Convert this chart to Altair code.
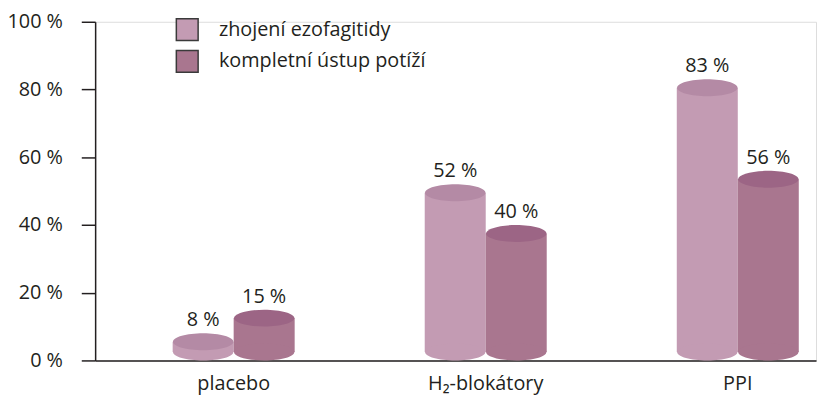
import altair as alt
import pandas as pd

categories = ["placebo", "H₂-blokátory", "PPI"]
series = ["zhojení ezofagitidy", "kompletní ústup potíží"]
healing = [8, 52, 83]
relief = [15, 40, 56]

body_colors = ["#c39bb3", "#a9768f"]
top_colors = ["#b48aa5", "#9c6585"]

rows = []
for c, a, b in zip(categories, healing, relief):
    rows.append({"cat": c, "series": series[0], "value": a})
    rows.append({"cat": c, "series": series[1], "value": b})
df = pd.DataFrame(rows)

HALF = 2.5  # ellipse half-height in data units
ELLIPSE = "M -1 0 A 1 0.28 0 1 0 1 0 A 1 0.28 0 1 0 -1 0 Z"
FONT = "Open Sans"
FS = 20

xenc = alt.X("cat:N", sort=categories,
             scale=alt.Scale(paddingInner=0.516, paddingOuter=0.188, align=0.818, round=False),
             axis=alt.Axis(title=None, ticks=False, labelFontSize=FS, labelFont=FONT,
                           labelColor="#231f20", labelPadding=13, labelAngle=0,
                           domainColor="#231f20", domainWidth=1.5))
xoff = alt.XOffset("series:N", sort=series,
                   scale=alt.Scale(paddingInner=0, paddingOuter=0, round=False))
yscale = alt.Scale(domain=[0, 100], nice=False)

base = alt.Chart(df).transform_calculate(
    top_c=f"datum.value - {HALF}", bot_c=f"{HALF}"
)

body = base.mark_bar().encode(
    x=xenc, xOffset=xoff,
    y=alt.Y("bot_c:Q", scale=yscale,
            axis=alt.Axis(title=None, values=[0, 20, 40, 60, 80, 100],
                          labelExpr="datum.value + ' %'", labelFontSize=FS, labelFont=FONT,
                          labelColor="#231f20", tickSize=14, labelPadding=19,
                          tickColor="#231f20", domainColor="#231f20", domainWidth=1.5,
                          tickWidth=1.5, grid=False)),
    y2="top_c:Q",
    color=alt.Color("series:N", sort=series,
                    scale=alt.Scale(domain=series, range=body_colors),
                    legend=alt.Legend(title=None, orient="none", legendX=81, legendY=-4,
                                      symbolType="square", symbolSize=484,
                                      symbolStrokeColor="#3a3a3a", symbolStrokeWidth=1.5,
                                      labelFontSize=20, labelFont=FONT, labelColor="#231f20",
                                      labelOffset=20, rowPadding=4, padding=0, labelLimit=400)),
)

bottom = base.mark_point(filled=True, opacity=1, shape=ELLIPSE, size=3721, strokeWidth=0).encode(
    x=xenc, xOffset=xoff,
    y=alt.Y("bot_c:Q", scale=yscale),
    color=alt.Color("series:N", scale=alt.Scale(domain=series, range=body_colors), legend=None),
)

top = base.mark_point(filled=True, opacity=1, shape=ELLIPSE, size=3721, strokeWidth=0).encode(
    x=xenc, xOffset=xoff,
    y=alt.Y("top_c:Q", scale=yscale),
    fill=alt.Fill("series:N", scale=alt.Scale(domain=series, range=top_colors), legend=None),
)

labels = base.mark_text(baseline="bottom", dy=-3, fontSize=FS, font=FONT, color="#231f20").encode(
    x=xenc, xOffset=xoff,
    y=alt.Y("value:Q", scale=yscale),
    text=alt.Text("label:N"),
).transform_calculate(label="datum.value + ' %'")

chart = alt.layer(body, bottom, top, labels).properties(
    width=728, height=342,
    autosize=alt.AutoSizeParams(type="none"),
    padding={"left": 88, "top": 12, "right": 3, "bottom": 33},
).configure_view(stroke=None).configure(background="white")

chart.save("out.html", embed_options={"renderer": "svg", "actions": False})
